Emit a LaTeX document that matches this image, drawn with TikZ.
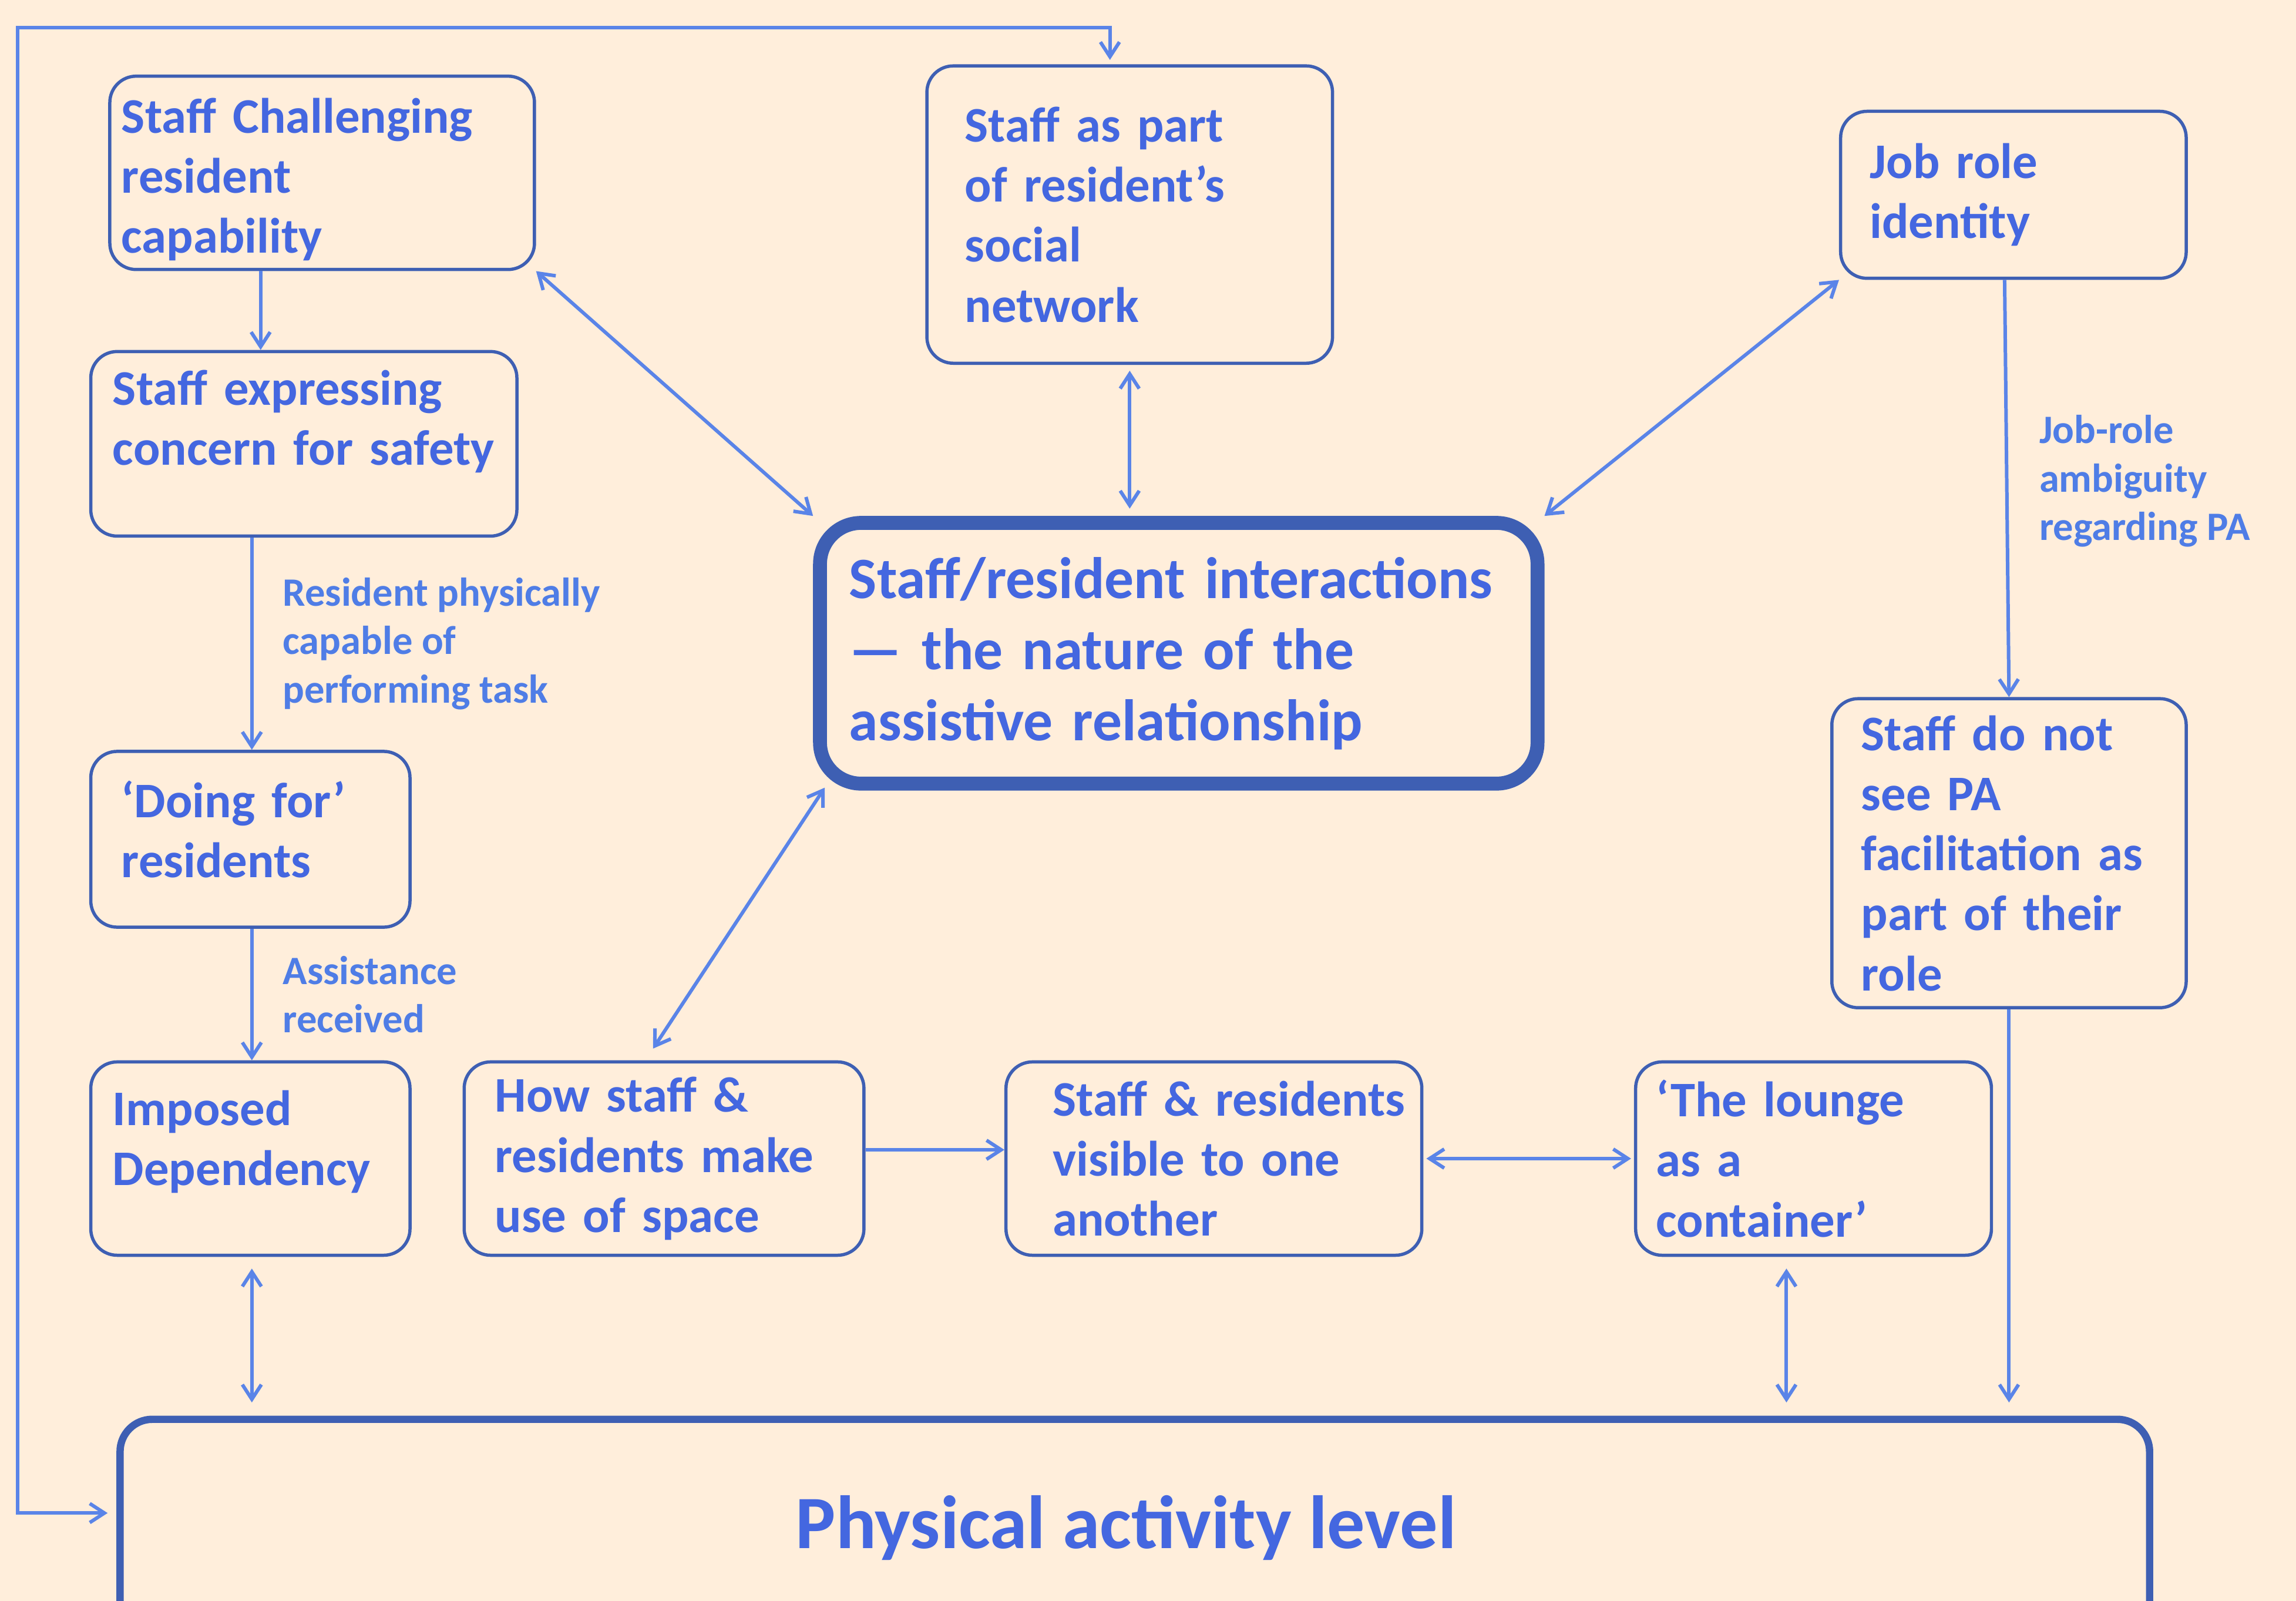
\documentclass[tikz,border=0pt]{standalone}
\usepackage{fontspec}
\setmainfont{Carlito}
\usetikzlibrary{calc,positioning,arrows.meta}
\definecolor{bgc}{HTML}{FFEEDB}
\definecolor{txtc}{HTML}{4467E0}
\definecolor{boxc}{HTML}{3E5FB3}
\definecolor{arrc}{HTML}{5A84E8}
\definecolor{lblc}{HTML}{4F7DE6}
\begin{document}
\begin{tikzpicture}[x=1pt, y=-1pt, >={Straight Barb[length=10pt,width=13pt]},
  box/.style={draw=boxc, line width=2.2pt, rounded corners=18pt, align=left, text=txtc, inner ysep=0pt, font=\fontsize{34}{41}\selectfont\bfseries},
  lbl/.style={midway, anchor=west, inner sep=0pt, align=left, text=lblc, font=\fontsize{27.5}{33}\selectfont\bfseries},
  con/.style={draw=arrc, line width=2.4pt}]
\useasboundingbox (0,0) rectangle (1568,1093);
\fill[bgc] (0,0) rectangle (1568,1093);

% left column
\node[box, minimum height=132pt, text width=274pt, inner xsep=8pt] (SC) at (220,118) {\mbox{}\\[-8pt]Staff Challenging\\resident\\capability};
\node[box, minimum height=126pt, text width=261pt, inner xsep=15pt] (SE) at (207.5,303) {Staff expressing\\\mbox{concern for safety}\\[-5pt]\mbox{}};
\node[box, minimum height=120pt, text width=176pt, inner xsep=21pt] (DF) at (171,573) {‘Doing for’\\residents\\[-27pt]\mbox{}};
\node[box, minimum height=132pt, text width=188pt, inner xsep=15pt] (ID) at (171,791) {Imposed\\Dependency\\[-13pt]\mbox{}};

% bottom row
\node[box, minimum height=132pt, text width=231pt, inner xsep=21pt] (HS) at (453.5,791) {How staff \&\\residents make\\use of space};
\node[box, minimum height=132pt, text width=220pt, inner xsep=32pt] (VS) at (829,791) {\mbox{Staff \& residents}\\visible to one\\another};
\node[box, minimum height=132pt, text width=215pt, inner xsep=14pt] (LC) at (1238.5,791) {‘The lounge\\as a\\container’};

% top and right
\node[box, minimum height=203pt, text width=225pt, inner xsep=26pt] (SN) at (771.5,146.5) {Staff as part\\of resident’s\\social\\network};
\node[box, minimum height=114pt, text width=196pt, inner xsep=20pt] (JR) at (1375,133) {Job role\\identity};
\node[box, minimum height=211pt, text width=202pt, inner xsep=20pt] (NS) at (1372,582.5) {Staff do not\\see PA\\facilitation as\\part of their\\role};

% centre and base
\node[box, line width=9.5pt, rounded corners=28pt, minimum height=178pt, text width=450pt, inner xsep=20pt, font=\fontsize{40}{48.5}\selectfont\bfseries] (CI) at (805,446) {\mbox{Staff/resident interactions}\\— the nature of the\\assistive relationship};
\node[box, line width=5pt, rounded corners=22pt, minimum width=1386pt, minimum height=148pt, font=\fontsize{51.5}{60}\selectfont\bfseries] (PA) at (775,1043) {\hspace*{-12pt}Physical activity level};

\draw[con, ->] ($(SC.south)+(-42,0)$) -- ($(SE.north)+(-29.5,0)$);
\draw[con, ->] ($(SE.south)+(-35.5,0)$) -- node[lbl, xshift=20pt]{Resident physically\\capable of\\performing task} ($(DF.north)+(1,0)$);
\draw[con, ->] ($(DF.south)+(1,0)$) -- node[lbl, xshift=20pt]{Assistance\\received} ($(ID.north)+(1,0)$);
\draw[con, <->] ($(ID.south)+(1,8)$) -- ($(ID.south |- PA.north)+(1,-9)$);

\draw[con, <->] (SC.south east) -- (CI.north west);
\draw[con, <->] ($(SN.south)+(0,4)$) -- ($(SN.south |- CI.north)+(0,-5)$);
\draw[con, <->] (JR.south west) -- (CI.north east);
\draw[con, ->] ($(JR.south)+(-6,0)$) -- node[lbl, xshift=21pt, yshift=5pt]{Job-role\\ambiguity\\regarding PA} (NS.north);
\draw[con, ->] (NS.south) -- ($(NS.south |- PA.north)+(0,-9)$);

\draw[con, <->] ($(CI.south west)+(8,-2)$) -- ($(HS.north)+(-7.5,-8)$);
\draw[con, ->] ($(HS.east)+(0,-6)$) -- ($(VS.west)+(0,-6)$);
\draw[con, <->] ($(VS.east)+(2,0)$) -- ($(LC.west)+(-2,0)$);
\draw[con, <->] ($(LC.south)+(-18.5,8)$) -- ($(LC.south |- PA.north)+(-18.5,-9)$);

% loop round the outside
\coordinate (tl) at (12,19);
\draw[con, <->] ($(SN.north)+(-13.5,-3)$) |- (tl) |- ($(PA.west)+(-6,-10)$);
\end{tikzpicture}
\end{document}
